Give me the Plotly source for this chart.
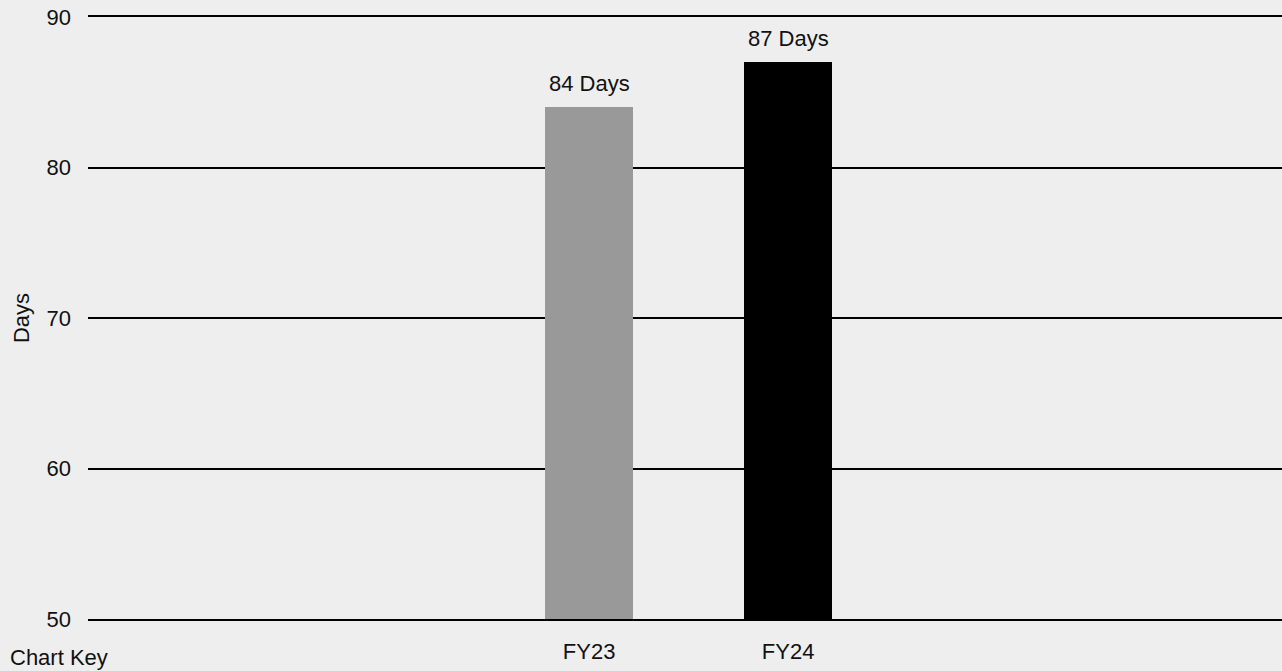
import plotly.graph_objects as go

# Fiscal-year categories and their day counts
categories = ["FY23", "FY24"]
days = [84, 87]
bar_colors = ["#999999", "#000000"]
y_ticks = [50, 60, 70, 80, 90]

labels = [f"{v} Days" for v in days]

FONT = "Liberation Sans, Arial, Helvetica, sans-serif"
TEXT = "#111111"
SIZE = 22

fig = go.Figure(
    go.Bar(
        x=categories,
        y=days,
        marker=dict(color=bar_colors, line=dict(width=0)),
        width=0.442,
        hoverinfo="skip",
    )
)

# Value labels sit above each bar
annotations = [
    dict(
        x=c,
        y=v,
        xref="x",
        yref="y",
        text=t,
        showarrow=False,
        xanchor="center",
        yanchor="middle",
        yshift=24,
        font=dict(size=SIZE, family=FONT, color=TEXT),
    )
    for c, v, t in zip(categories, days, labels)
]

annotations.append(
    dict(
        text="Chart Key",
        xref="paper",
        yref="paper",
        x=0,
        y=0,
        xanchor="left",
        yanchor="middle",
        xshift=-80,
        yshift=-38,
        showarrow=False,
        font=dict(size=SIZE, family=FONT, color=TEXT),
    )
)

fig.update_layout(
    width=1282,
    height=671,
    margin=dict(l=88, r=0, t=17, b=52),
    paper_bgcolor="#eeeeee",
    plot_bgcolor="#eeeeee",
    font=dict(family=FONT, size=SIZE, color=TEXT),
    showlegend=False,
    bargap=0,
    xaxis=dict(
        type="category",
        range=[-2.518, 3.482],
        showgrid=False,
        zeroline=False,
        showline=True,
        mirror=True,
        linecolor="#000000",
        linewidth=2,
        ticks="",
        ticklabelstandoff=12,
        tickfont=dict(size=SIZE, family=FONT, color=TEXT),
    ),
    yaxis=dict(
        range=[50, 90],
        tickvals=y_ticks,
        showgrid=True,
        gridcolor="#000000",
        gridwidth=2,
        zeroline=False,
        showline=False,
        ticks="",
        ticklabelstandoff=16,
        tickfont=dict(size=SIZE, family=FONT, color=TEXT),
        title=dict(text="Days", font=dict(size=SIZE, family=FONT, color=TEXT), standoff=10),
    ),
    annotations=annotations,
)

fig.write_html("out.html")
